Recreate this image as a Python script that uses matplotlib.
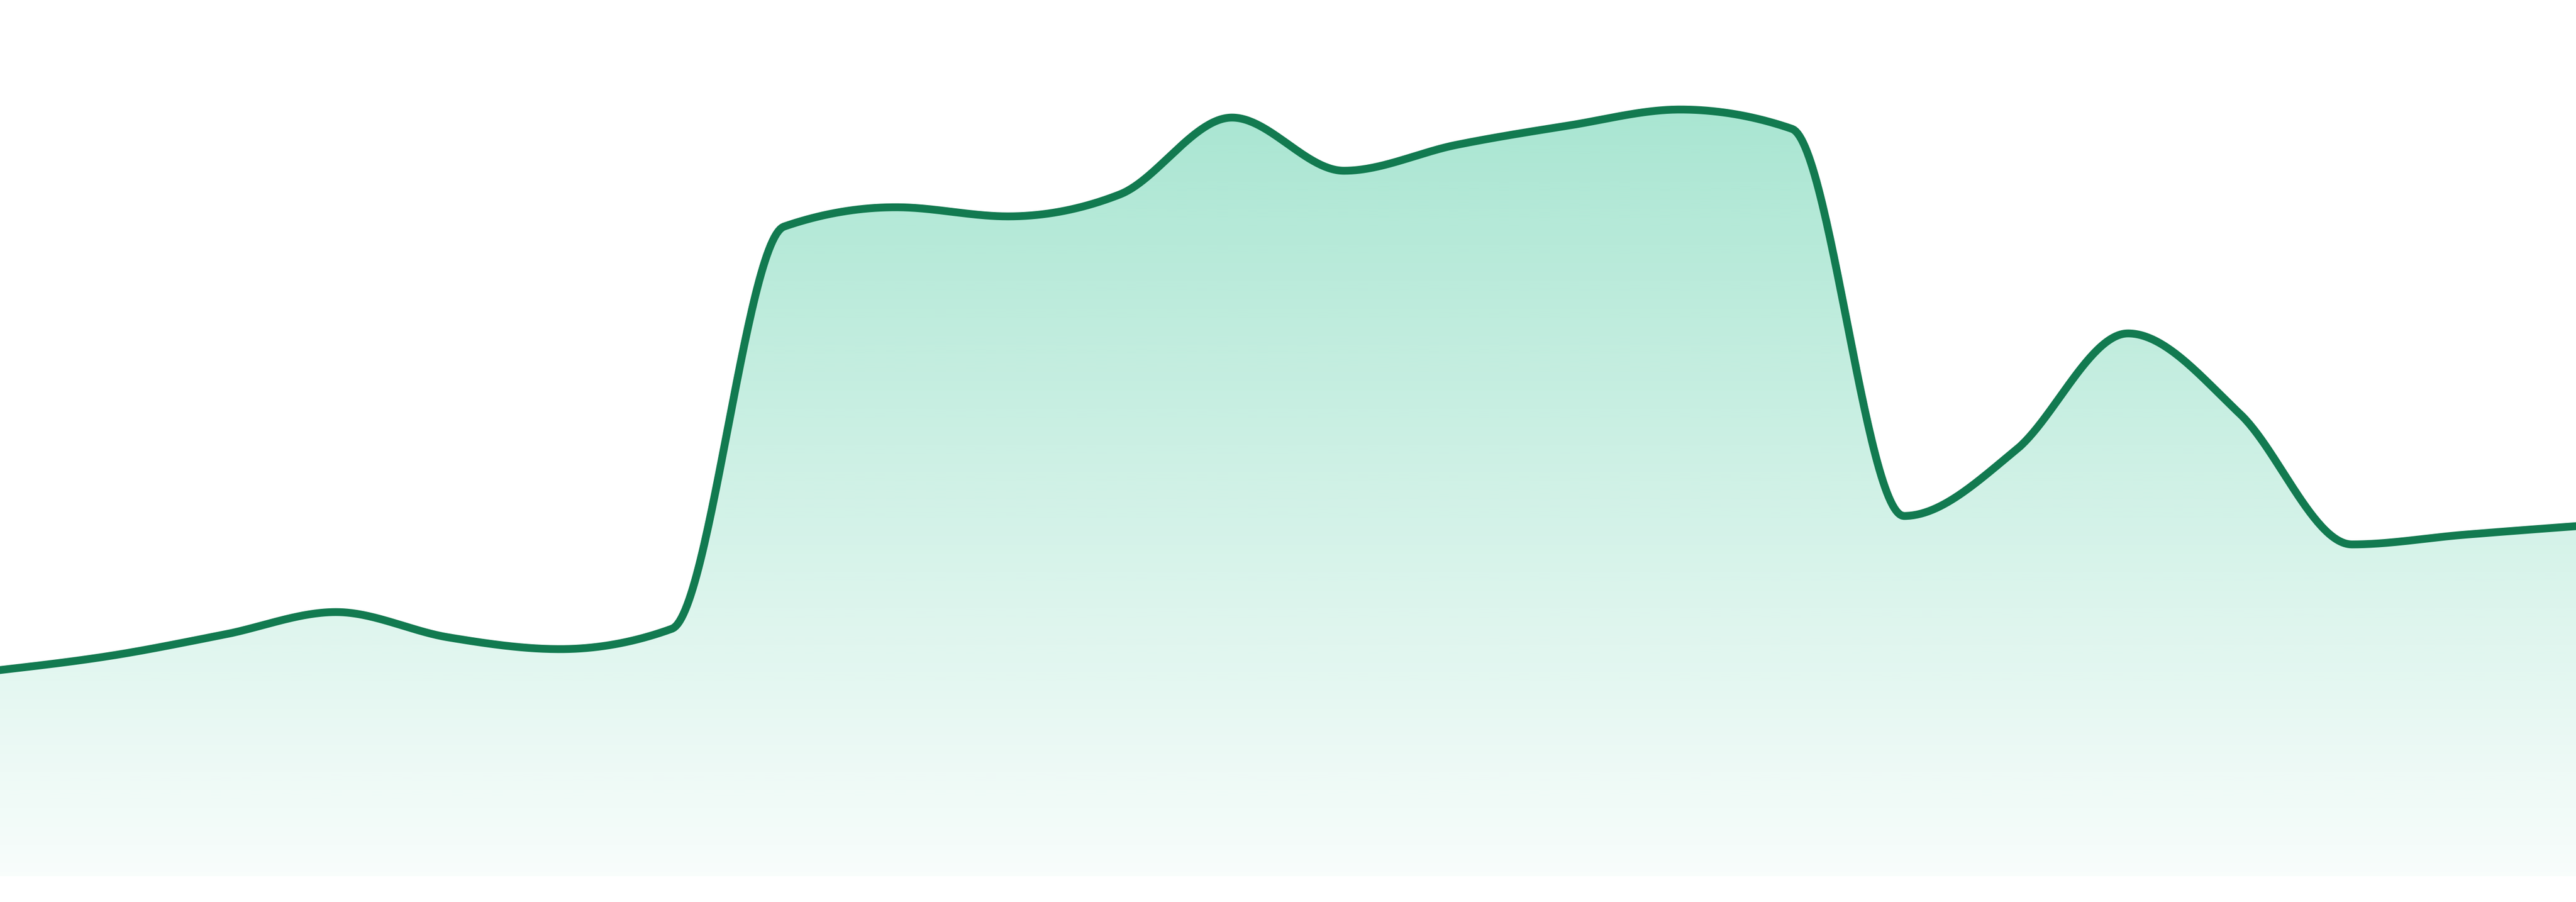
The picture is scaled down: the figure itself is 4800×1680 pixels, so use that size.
import numpy as np
import matplotlib
matplotlib.use("Agg")
import matplotlib.pyplot as plt
from matplotlib.colors import to_rgb

# values (one point per step, left to right)
values = [38.4, 41.1, 45.0, 49.2, 44.5, 42.3, 46.1, 121.0, 124.6, 122.9,
          127.0, 141.3, 131.4, 136.2, 139.8, 142.8, 139.2, 67.1, 79.4, 101.1,
          86.1, 61.8, 63.6, 65.2]

line_color = "#127a50"
fill_color = "#10b981"


def monotone_x(x, y, n=60):
    # same curve as d3.curveMonotoneX
    x = np.asarray(x, float)
    y = np.asarray(y, float)
    h = np.diff(x)
    s = np.diff(y) / h
    t = np.zeros(len(x))
    for i in range(1, len(x) - 1):
        p = (s[i - 1] * h[i] + s[i] * h[i - 1]) / (h[i - 1] + h[i])
        t[i] = (np.sign(s[i - 1]) + np.sign(s[i])) * min(abs(s[i - 1]), abs(s[i]), 0.5 * abs(p))
    t[0] = (3 * s[0] - t[1]) / 2
    t[-1] = (3 * s[-1] - t[-2]) / 2
    xs, ys = [], []
    u = np.linspace(0, 1, n)
    for i in range(len(x) - 1):
        dx = h[i] / 3
        px = [x[i], x[i] + dx, x[i + 1] - dx, x[i + 1]]
        py = [y[i], y[i] + dx * t[i], y[i + 1] - dx * t[i + 1], y[i + 1]]
        b = [(1 - u) ** 3, 3 * (1 - u) ** 2 * u, 3 * (1 - u) * u ** 2, u ** 3]
        xs.append(sum(bi * pi for bi, pi in zip(b, px)))
        ys.append(sum(bi * pi for bi, pi in zip(b, py)))
    return np.concatenate(xs), np.concatenate(ys)


fig = plt.figure(figsize=(16, 5.6), dpi=300)
ax = fig.add_axes([0, 0, 1, 1])
ax.set_axis_off()

idx = np.arange(len(values))
cx, cy = monotone_x(idx, values)

top = max(values)
ax.set_xlim(0, len(values) - 1)
ax.set_ylim(-4.8, 163.2)

# gradient fill under the curve
poly = ax.fill_between(cx, 0, cy, color="none", lw=0)
rows = np.linspace(1, 0, 400)[:, None]
grad = np.zeros((400, 1, 4))
grad[..., :3] = to_rgb(fill_color)
grad[..., 3] = 0.03 + 0.33 * rows
img = ax.imshow(grad, extent=[0, len(values) - 1, 0, top], aspect="auto",
                origin="upper", interpolation="bilinear", zorder=1)
img.set_clip_path(poly.get_paths()[0], transform=ax.transData)

ax.plot(cx, cy, color=line_color, lw=3.5, zorder=2, solid_joinstyle="round")

fig.savefig("out.png", dpi=300)
